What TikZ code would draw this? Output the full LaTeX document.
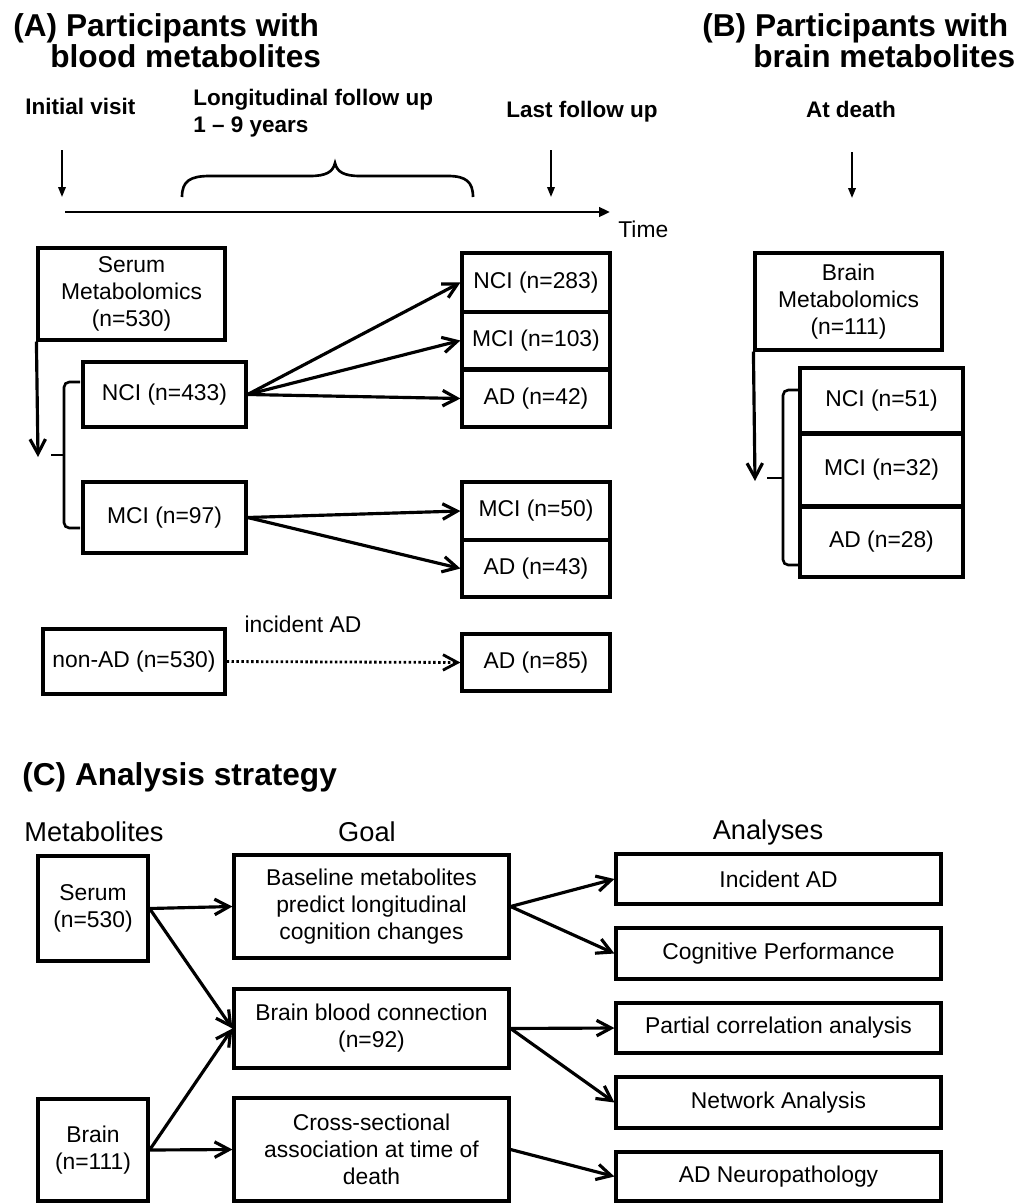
\documentclass[tikz,border=0pt]{standalone}
\usepackage{fontspec}
\setmainfont{Liberation Sans}
\usetikzlibrary{arrows.meta}
\newcommand\boxnode[6]{\node[box, minimum width={(#4-#2)*0.02cm}, minimum height={(#5-#3)*0.02cm}] (#1) at ({(#2+#4)/2},{(#3+#5)/2}) {#6};}
\begin{document}
\begin{tikzpicture}[x=0.02cm,y=-0.02cm,
  box/.style={draw, line width=1.8pt, inner sep=0pt, align=center, font=\fontsize{13}{15.4}\selectfont},
  arr/.style={line width=1.8pt, -{Straight Barb[length=2.9mm,width=3.1mm]}},
  dotarr/.style={line width=1.6pt, dash pattern=on 1.4pt off 1.4pt, -{Straight Barb[length=2.9mm,width=3.1mm]}},
  thinarr/.style={line width=1.1pt, -{Triangle[length=2mm,width=1.5mm]}},
  timearr/.style={line width=1.7pt, -{Triangle[length=2.2mm,width=1.9mm]}},
  brc/.style={line width=1.5pt, rounded corners=3pt},
  lbl/.style={inner sep=0pt, font=\fontsize{13}{15.4}\selectfont},
  blbl/.style={inner sep=0pt, align=left, font=\bfseries\fontsize{12.8}{15.4}\selectfont},
  ttl/.style={inner sep=0pt, anchor=base west, font=\bfseries\fontsize{18}{22}\selectfont},
  hdr/.style={inner sep=0pt, font=\fontsize{15.5}{18}\selectfont}]
\fill[white] (0,0) rectangle (1023,1203);
\useasboundingbox (0,0) rectangle (1023,1203);

% ---------- Titles ----------
\node[ttl] (tA1) at (13,37) {(A) Participants with};
\node[ttl] (tA2) at (50,68) {blood metabolites};
\node[ttl] (tB1) at (702,37) {(B) Participants with};
\node[ttl] (tB2) at (753,68) {brain metabolites};
\node[ttl] (tC) at (22,785) {(C) Analysis strategy};

% ---------- Timeline labels ----------
\node[blbl, anchor=base west] (init) at (25,114) {Initial visit};
\node[blbl, anchor=north west] (longi) at (193,89) {Longitudinal follow up\\1 – 9 years};
\node[blbl, anchor=base west] (last) at (506,117) {Last follow up};
\node[blbl, anchor=base] (death) at (851,117) {At death};

\coordinate (a1s) at (62,150); \coordinate (a1e) at (62,197);
\coordinate (a2s) at (551,150); \coordinate (a2e) at (551,197);
\coordinate (a3s) at (852,152); \coordinate (a3e) at (852,198);
\draw[thinarr] (a1s) -- (a1e);
\draw[thinarr] (a2s) -- (a2e);
\draw[thinarr] (a3s) -- (a3e);
\coordinate (ts) at (65,212); \coordinate (te) at (610,212);
\draw[timearr] (ts) -- (te);
\node[lbl, anchor=base west] (time) at (618,237) {Time};
% curly brace over follow-up period
\draw[line width=1.5pt] (182,197) .. controls (182,181) and (190,176) .. (210,176) -- (310,176)
  .. controls (326,176) and (333,172) .. (335,163)
  .. controls (337,172) and (344,176) .. (360,176) -- (448,176)
  .. controls (466,176) and (473,182) .. (473,197);

% ---------- Panel A boxes ----------
\boxnode{serum}{38}{248}{225}{340}{Serum\\Metabolomics\\(n=530)}
\boxnode{nciA}{83}{362}{246}{427}{NCI (n=433)}
\boxnode{mciA}{83}{482}{246}{553}{MCI (n=97)}
\boxnode{nonad}{43}{629}{225}{694}{non-AD (n=530)}
\boxnode{nciB}{462}{253}{610}{312}{NCI (n=283)}
\boxnode{mciB}{462}{312}{610}{369}{MCI (n=103)}
\boxnode{adB}{462}{370}{610}{427}{AD (n=42)}
\boxnode{mciC}{462}{482}{610}{540}{MCI (n=50)}
\boxnode{adC}{462}{540}{610}{597}{AD (n=43)}
\boxnode{adD}{462}{634}{610}{691}{AD (n=85)}

\coordinate (serumTip) at (38,457);
\draw[arr] (serum.south west) -- (serumTip);
\draw[brc] (80,382) -- (64,382) -- (64,455) -- (64,528) -- (80,528);
\draw[line width=1.5pt] (64,455) -- (51,455);

\draw[arr] (nciA.east) -- (nciB.west);
\draw[arr] (nciA.east) -- (mciB.west);
\draw[arr] (nciA.east) -- (adB.west);
\draw[arr] (mciA.east) -- (mciC.west);
\draw[arr] (mciA.east) -- (adC.west);
\draw[dotarr] (nonad.east) -- (adD.west);
\node[lbl] (inc) at (303,624) {incident AD};

% ---------- Panel B ----------
\boxnode{brain}{755}{253}{942}{350}{Brain\\Metabolomics\\(n=111)}
\boxnode{nciE}{800}{368}{963}{433}{NCI (n=51)}
\boxnode{mciE}{800}{434}{963}{506}{MCI (n=32)}
\boxnode{adE}{800}{507}{963}{577}{AD (n=28)}
\coordinate (brainTip) at (755,481);
\draw[arr] (brain.south west) -- (brainTip);
\draw[brc] (799,390) -- (783,390) -- (783,478) -- (783,565) -- (799,565);
\draw[line width=1.5pt] (783,478) -- (767,478);

% ---------- Panel C ----------
\node[hdr] (hMet) at (94,832) {Metabolites};
\node[hdr] (hGoal) at (367,832) {Goal};
\node[hdr] (hAna) at (768,832) {Analyses};

\boxnode{cserum}{38}{856}{148}{961}{Serum\\(n=530)}
\boxnode{cbrain}{38}{1099}{148}{1201}{Brain\\(n=111)}
\boxnode{base}{234}{855}{509}{958}{Baseline metabolites\\predict longitudinal\\cognition changes}
\boxnode{bbc}{234}{989}{509}{1068}{Brain blood connection\\(n=92)}
\boxnode{cross}{234}{1098}{509}{1201}{Cross-sectional\\association at time of\\death}
\boxnode{incad}{616}{854}{941}{904}{Incident AD}
\boxnode{cogp}{616}{928}{941}{979}{Cognitive Performance}
\boxnode{pcor}{616}{1003}{941}{1053}{Partial correlation analysis}
\boxnode{netw}{616}{1077}{941}{1128}{Network Analysis}
\boxnode{adnp}{616}{1152}{941}{1201}{AD Neuropathology}

\draw[arr] (cserum.east) -- (base.west);
\draw[arr] (cserum.east) -- (bbc.west);
\draw[arr] (cbrain.east) -- (bbc.west);
\draw[arr] (cbrain.east) -- (cross.west);
\draw[arr] (base.east) -- (incad.west);
\draw[arr] (base.east) -- (cogp.west);
\draw[arr] (bbc.east) -- (pcor.west);
\draw[arr] (bbc.east) -- (netw.west);
\draw[arr] (cross.east) -- (adnp.west);
\end{tikzpicture}
\end{document}
